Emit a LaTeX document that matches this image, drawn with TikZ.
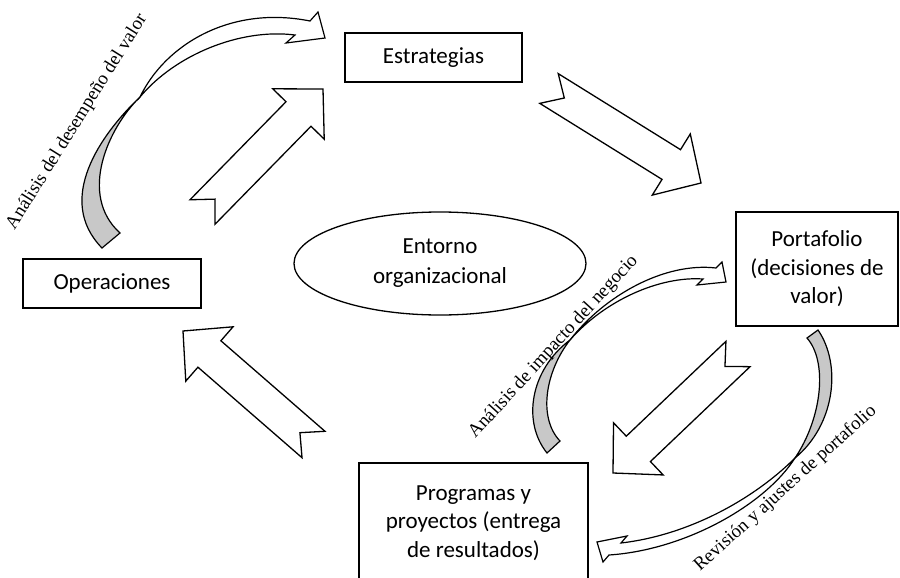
\documentclass[tikz,border=0pt]{standalone}
\usepackage{fontspec}
\setmainfont{Carlito}
\newfontfamily\labelfont{Liberation Serif}
\usetikzlibrary{calc,shapes.geometric}
\definecolor{Ink}{HTML}{000000}
\definecolor{RibbonGray}{HTML}{C8C8C8}

\newcommand{\blockarr}[2]{%
  \draw[blockarrow] ($(#1)!17.5pt!90:(#2)$) -- ($(#2)!35pt!(#1)!17.5pt!-90:(#1)$)
    -- ($(#2)!35pt!(#1)!36pt!-90:(#1)$) -- (#2) -- ($(#2)!35pt!(#1)!36pt!90:(#1)$)
    -- ($(#2)!35pt!(#1)!17.5pt!90:(#1)$) -- ($(#1)!17.5pt!-90:(#2)$) -- ($(#1)!18pt!(#2)$) -- cycle;}

\begin{document}
\begin{tikzpicture}[x=1pt,y=-1pt,
  box/.style={draw=Ink,line width=1.5pt,fill=white,inner sep=0pt,align=center,font=\fontsize{23}{28.5}\selectfont},
  env/.style={ellipse,draw=Ink,line width=1.3pt,inner sep=0pt,minimum width=292pt,minimum height=103pt,align=center,font=\fontsize{23}{30}\selectfont},
  note/.style={font=\labelfont\fontsize{18.8}{20}\selectfont,inner sep=0pt},
  blockarrow/.style={draw=Ink,line width=1.3pt,fill=white,line join=miter},
  ribbonback/.style={draw=Ink,line width=1.2pt,fill=RibbonGray,line join=miter},
  ribbonfront/.style={draw=Ink,line width=1.2pt,fill=white,line join=miter}
]
\useasboundingbox (0,0) rectangle (900,578);

\node[box,minimum width=177pt,minimum height=49pt] (est) at (433.5,57.5) {Estrategias};
\node[box,minimum width=178pt,minimum height=49pt] (ops) at (112,283.5) {Operaciones};
\node[box,minimum width=162pt,minimum height=114pt] (port) at (817,269) {Portafolio\\(decisiones de\\valor)};
\node[box,minimum width=229pt,minimum height=120pt] (prog) at (473.5,523) {Programas y\\proyectos (entrega\\de resultados)};
\node[env] (entorno) at (440,263.5) {Entorno\\organizacional};

\coordinate (oe-tail) at (202.5,212);
\coordinate (oe-tip) at (323,89);
\coordinate (ep-tail) at (549,88.5);
\coordinate (ep-tip) at (701,183);
\coordinate (pp-tail) at (738,354);
\coordinate (pp-tip) at (613,473);
\coordinate (po-tail) at (313.5,444.5);
\coordinate (po-tip) at (183,331);

\blockarr{oe-tail}{oe-tip}
\blockarr{ep-tail}{ep-tip}
\blockarr{pp-tail}{pp-tip}
\blockarr{po-tail}{po-tip}

% curved arrow: operaciones -> estrategias
\coordinate (val-x) at (140,97);
\draw[ribbonback] (102,248) .. controls (55,200) and (100,135) .. (val-x)
  .. controls (108,128) and (78,195) .. (120,233) -- cycle;
\draw[ribbonfront] (val-x) .. controls (165,45) and (230,5) .. (310,21) -- (318,12) -- (325,38)
  -- (286,43) -- (295,35) .. controls (240,28) and (175,55) .. (val-x) -- cycle;

% curved arrow: programas -> portafolio
\coordinate (imp-x) at (570,340);
\draw[ribbonback] (547,453) .. controls (522,422) and (530,370) .. (imp-x)
  .. controls (545,372) and (538,418) .. (560,441) -- cycle;
\draw[ribbonfront] (imp-x) .. controls (605,295) and (665,262) .. (716,268) -- (722,262) -- (726,282)
  -- (697,285) -- (703,279) .. controls (660,276) and (605,300) .. (imp-x) -- cycle;

% curved arrow: portafolio -> programas
\coordinate (rev-x) at (795,458);
\draw[ribbonback] (818,330) .. controls (842,365) and (835,425) .. (rev-x)
  .. controls (822,418) and (828,362) .. (807,338) -- cycle;
\draw[ribbonfront] (rev-x) .. controls (765,505) and (685,550) .. (609,555) -- (603,562) -- (597,542)
  -- (627,536) -- (621,543) .. controls (690,535) and (755,498) .. (rev-x) -- cycle;

\node[note,rotate=58] (lab-val) at (77,122) {Análisis del desempeño del valor};
\node[note,rotate=47.5] (lab-imp) at (553.5,347) {Análisis de impacto del negocio};
\node[note,rotate=42] (lab-rev) at (785.5,488.5) {Revisión y ajustes de portafolio};
\end{tikzpicture}
\end{document}
